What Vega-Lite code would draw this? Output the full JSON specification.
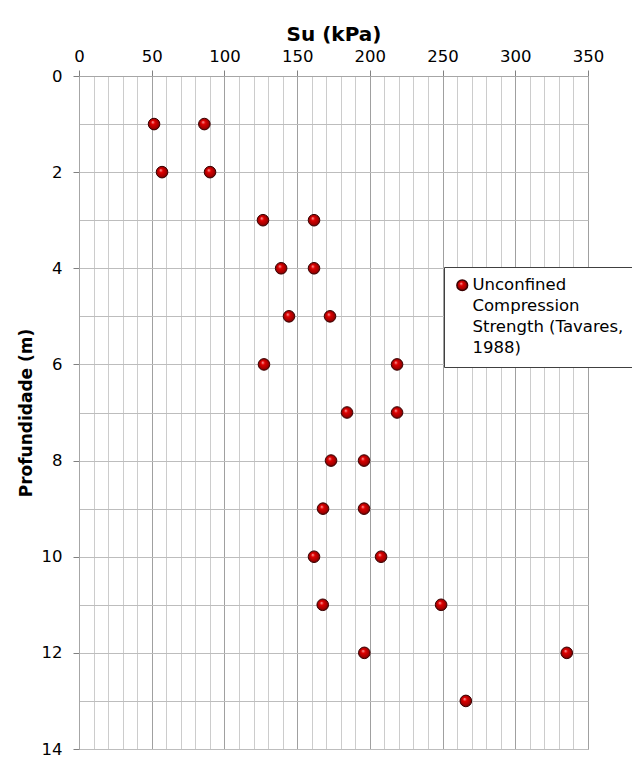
{
  "$schema": "https://vega.github.io/schema/vega-lite/v6.json",
  "width": 509,
  "height": 673,
  "autosize": {"type": "none"},
  "padding": {"left": 79, "top": 76, "right": 44, "bottom": 9},
  "background": "white",
  "config": {
    "font": "DejaVu Sans",
    "view": {"stroke": "#a6a6a6", "strokeWidth": 1},
    "axis": {"labelFont": "DejaVu Sans", "titleFont": "DejaVu Sans", "labelColor": "#000", "titleColor": "#000"},
    "style": {"guide-label": {"lineHeight": 21}}
  },
  "data": {
    "values": [
      {"su": 51.6, "prof": 1, "serie": "Unconfined Compression Strength (Tavares, 1988)"},
      {"su": 86.2, "prof": 1, "serie": "Unconfined Compression Strength (Tavares, 1988)"},
      {"su": 57.1, "prof": 2, "serie": "Unconfined Compression Strength (Tavares, 1988)"},
      {"su": 90.1, "prof": 2, "serie": "Unconfined Compression Strength (Tavares, 1988)"},
      {"su": 126.5, "prof": 3, "serie": "Unconfined Compression Strength (Tavares, 1988)"},
      {"su": 161.6, "prof": 3, "serie": "Unconfined Compression Strength (Tavares, 1988)"},
      {"su": 139.0, "prof": 4, "serie": "Unconfined Compression Strength (Tavares, 1988)"},
      {"su": 161.6, "prof": 4, "serie": "Unconfined Compression Strength (Tavares, 1988)"},
      {"su": 144.4, "prof": 5, "serie": "Unconfined Compression Strength (Tavares, 1988)"},
      {"su": 172.6, "prof": 5, "serie": "Unconfined Compression Strength (Tavares, 1988)"},
      {"su": 127.2, "prof": 6, "serie": "Unconfined Compression Strength (Tavares, 1988)"},
      {"su": 218.7, "prof": 6, "serie": "Unconfined Compression Strength (Tavares, 1988)"},
      {"su": 184.3, "prof": 7, "serie": "Unconfined Compression Strength (Tavares, 1988)"},
      {"su": 218.7, "prof": 7, "serie": "Unconfined Compression Strength (Tavares, 1988)"},
      {"su": 173.3, "prof": 8, "serie": "Unconfined Compression Strength (Tavares, 1988)"},
      {"su": 196.0, "prof": 8, "serie": "Unconfined Compression Strength (Tavares, 1988)"},
      {"su": 167.8, "prof": 9, "serie": "Unconfined Compression Strength (Tavares, 1988)"},
      {"su": 196.0, "prof": 9, "serie": "Unconfined Compression Strength (Tavares, 1988)"},
      {"su": 161.6, "prof": 10, "serie": "Unconfined Compression Strength (Tavares, 1988)"},
      {"su": 207.7, "prof": 10, "serie": "Unconfined Compression Strength (Tavares, 1988)"},
      {"su": 167.6, "prof": 11, "serie": "Unconfined Compression Strength (Tavares, 1988)"},
      {"su": 249.0, "prof": 11, "serie": "Unconfined Compression Strength (Tavares, 1988)"},
      {"su": 196.2, "prof": 12, "serie": "Unconfined Compression Strength (Tavares, 1988)"},
      {"su": 335.4, "prof": 12, "serie": "Unconfined Compression Strength (Tavares, 1988)"},
      {"su": 266.0, "prof": 13, "serie": "Unconfined Compression Strength (Tavares, 1988)"}
    ]
  },
  "mark": {
    "type": "point",
    "filled": true,
    "size": 135,
    "fill": {
      "gradient": "radial",
      "x1": 0.38, "y1": 0.32, "r1": 0,
      "x2": 0.5, "y2": 0.5, "r2": 0.55,
      "stops": [
        {"offset": 0, "color": "#ffb0b0"},
        {"offset": 0.3, "color": "#e00000"},
        {"offset": 0.75, "color": "#a00000"},
        {"offset": 1, "color": "#500000"}
      ]
    },
    "fillOpacity": 1,
    "stroke": "#3a0000",
    "strokeWidth": 1,
    "opacity": 1
  },
  "encoding": {
    "x": {
      "field": "su",
      "type": "quantitative",
      "scale": {"domain": [0, 350], "nice": false, "zero": true},
      "axis": {
        "orient": "top",
        "title": "Su (kPa)",
        "titleFontSize": 20,
        "titleFontWeight": "bold",
        "titlePadding": 4,
        "values": [0,10,20,30,40,50,60,70,80,90,100,110,120,130,140,150,160,170,180,190,200,210,220,230,240,250,260,270,280,290,300,310,320,330,340,350],
        "labelExpr": "datum.value % 50 === 0 ? datum.label : ''",
        "labelFontSize": 16.5,
        "labelPadding": 6,
        "labelFlush": false,
        "labelOverlap": false,
        "tickSize": 6,
        "tickColor": "#808080",
        "tickOpacity": {"condition": {"test": "datum.value % 50 === 0", "value": 1}, "value": 0},
        "domainColor": "#a6a6a6",
        "grid": true,
        "gridColor": {"condition": {"test": "datum.value % 50 === 0", "value": "#a0a0a0"}, "value": "#cccccc"},
        "gridWidth": 1
      }
    },
    "y": {
      "field": "prof",
      "type": "quantitative",
      "scale": {"domain": [0, 14], "nice": false, "reverse": true},
      "axis": {
        "title": "Profundidade (m)",
        "titleFontSize": 17,
        "titleFontWeight": "bold",
        "titlePadding": 6,
        "values": [0,1,2,3,4,5,6,7,8,9,10,11,12,13,14],
        "labelExpr": "datum.value % 2 === 0 ? datum.label : ''",
        "labelFontSize": 16.5,
        "labelPadding": 11,
        "labelFlush": false,
        "labelOverlap": false,
        "tickSize": 6,
        "tickColor": "#808080",
        "tickOpacity": {"condition": {"test": "datum.value % 2 === 0", "value": 1}, "value": 0},
        "domainColor": "#a6a6a6",
        "grid": true,
        "gridColor": "#bdbdbd",
        "gridWidth": 1
      }
    },
    "shape": {
      "field": "serie",
      "type": "nominal",
      "scale": {"range": ["circle"]},
      "legend": {
        "title": null,
        "orient": "none",
        "legendX": 365,
        "legendY": 191,
        "fillColor": "white",
        "strokeColor": "#404040",
        "padding": 10,
        "labelFont": "DejaVu Sans",
        "labelFontSize": 16.5,
        "labelColor": "#000",
        "labelLimit": 400,
        "labelOffset": 2,
        "labelExpr": "['Unconfined', 'Compression', 'Strength (Tavares,', '1988)']",
        "symbolSize": 115,
        "encode": {
          "symbols": {
            "update": {
              "fill": {"value": {"gradient": "radial", "x1": 0.38, "y1": 0.32, "r1": 0, "x2": 0.5, "y2": 0.5, "r2": 0.55, "stops": [{"offset": 0, "color": "#ffb0b0"}, {"offset": 0.3, "color": "#e00000"}, {"offset": 0.75, "color": "#a00000"}, {"offset": 1, "color": "#500000"}]}},
              "stroke": {"value": "#3a0000"},
              "strokeWidth": {"value": 1},
              "opacity": {"value": 1}
            }
          },
          "labels": {
            "update": {
              "lineHeight": {"value": 21},
              "baseline": {"value": "top"},
              "dy": {"value": -9}
            }
          }
        }
      }
    }
  }
}
